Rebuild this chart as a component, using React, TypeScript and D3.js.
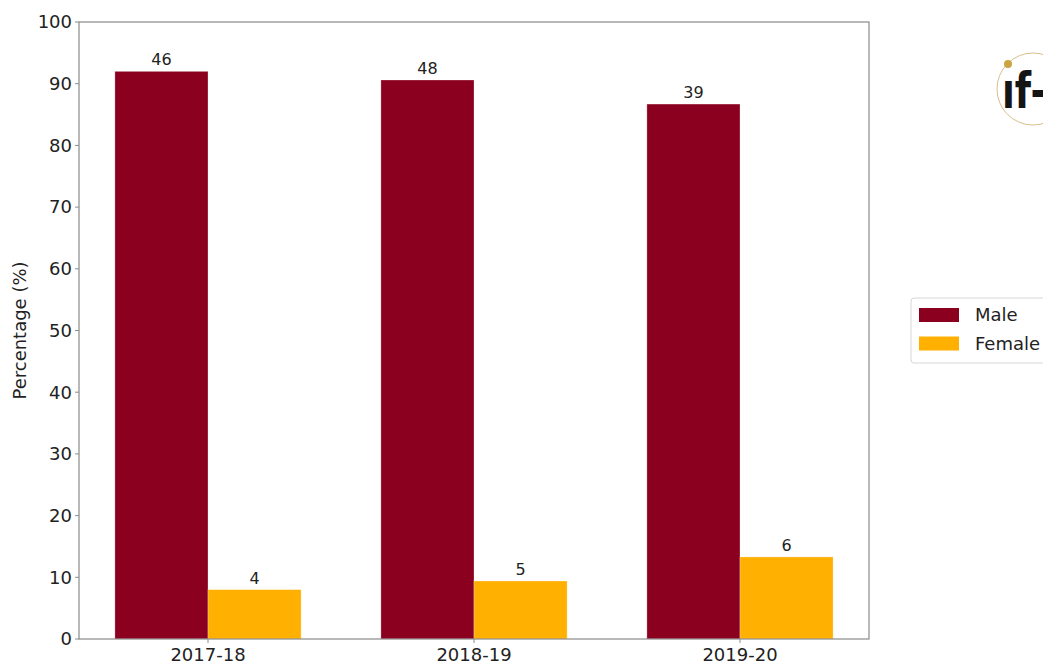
import React from "react";
import * as d3 from "d3";

const categories = ["2017-18", "2018-19", "2019-20"];
const maleCounts = [46, 48, 39];
const femaleCounts = [4, 5, 6];
const malePct = [92.0, 90.6, 86.7];
const femalePct = [8.0, 9.4, 13.3];
const yTicks = [0, 10, 20, 30, 40, 50, 60, 70, 80, 90, 100];

const W = 1043;
const H = 661;
const left = 79, right = 869, top = 22, bottom = 639;
const barW = 0.35;
const MALE = "#8B001E";
const FEMALE = "#FFB000";
const FONT = "DejaVu Sans";

export default function App() {
  const x = d3.scaleLinear().domain([-0.485, 2.485]).range([left, right]);
  const y = d3.scaleLinear().domain([0, 100]).range([bottom, top]);
  const series = [
    { name: "Male", pct: malePct, counts: maleCounts, color: MALE, offset: -barW / 2 },
    { name: "Female", pct: femalePct, counts: femaleCounts, color: FEMALE, offset: barW / 2 },
  ];
  return (
    <svg width={W} height={H} style={{ position: "absolute", left: 0, top: 0 }} fontFamily={FONT}>
      <rect x={0} y={0} width={W} height={H} fill="#fff" />
      {series.map((s) =>
        s.pct.map((v, i) => {
          const cx = i + s.offset;
          const x0 = x(cx - barW / 2);
          const x1 = x(cx + barW / 2);
          return (
            <g key={s.name + i}>
              <rect x={x0} y={y(v)} width={x1 - x0} height={y(0) - y(v)} fill={s.color} stroke="#fff" strokeOpacity={0.35} strokeWidth={0.8} />
              <text x={x(cx)} y={y(v) - 6} textAnchor="middle" fontSize={16} fill="#222">{s.counts[i]}</text>
            </g>
          );
        })
      )}
      {/* spines */}
      <rect x={left} y={top} width={right - left} height={bottom - top} fill="none" stroke="#8a8a8a" strokeWidth={1.2} />
      {yTicks.map((t) => (
        <g key={t}>
          <line x1={left - 4} x2={left} y1={y(t)} y2={y(t)} stroke="#8a8a8a" strokeWidth={1} />
          <text x={left - 7} y={y(t)} dy="0.35em" textAnchor="end" fontSize={18} fill="#222">{t}</text>
        </g>
      ))}
      {categories.map((c, i) => (
        <g key={c}>
          <line x1={x(i)} x2={x(i)} y1={bottom} y2={bottom + 4} stroke="#8a8a8a" strokeWidth={1} />
          <text x={x(i)} y={bottom + 22} textAnchor="middle" fontSize={18} fill="#222">{c}</text>
        </g>
      ))}
      <text transform={`translate(26,${(top + bottom) / 2}) rotate(-90)`} textAnchor="middle" fontSize={18} fill="#222">Percentage (%)</text>
      {/* legend */}
      <rect x={911} y={298} width={150} height={65} rx={3} fill="#fff" stroke="#d6d6d6" strokeWidth={1} />
      {series.map((s, i) => (
        <g key={s.name}>
          <rect x={919} y={308 + i * 28.5} width={40} height={14} fill={s.color} />
          <text x={975} y={315 + i * 28.5} dy="0.35em" fontSize={18} fill="#222">{s.name}</text>
        </g>
      ))}
      {/* logo */}
      <circle cx={1033} cy={89} r={36} fill="#fff" stroke="#D9C08A" strokeWidth={1} />
      <text x={1002} y={108} fontSize={50} fontWeight="bold" fill="#151515" fontFamily="DejaVu Sans Condensed, DejaVu Sans" textLength={44} lengthAdjust="spacingAndGlyphs">ıf-</text>
      <circle cx={1008} cy={64} r={4} fill="#C9A440" />
    </svg>
  );
}
